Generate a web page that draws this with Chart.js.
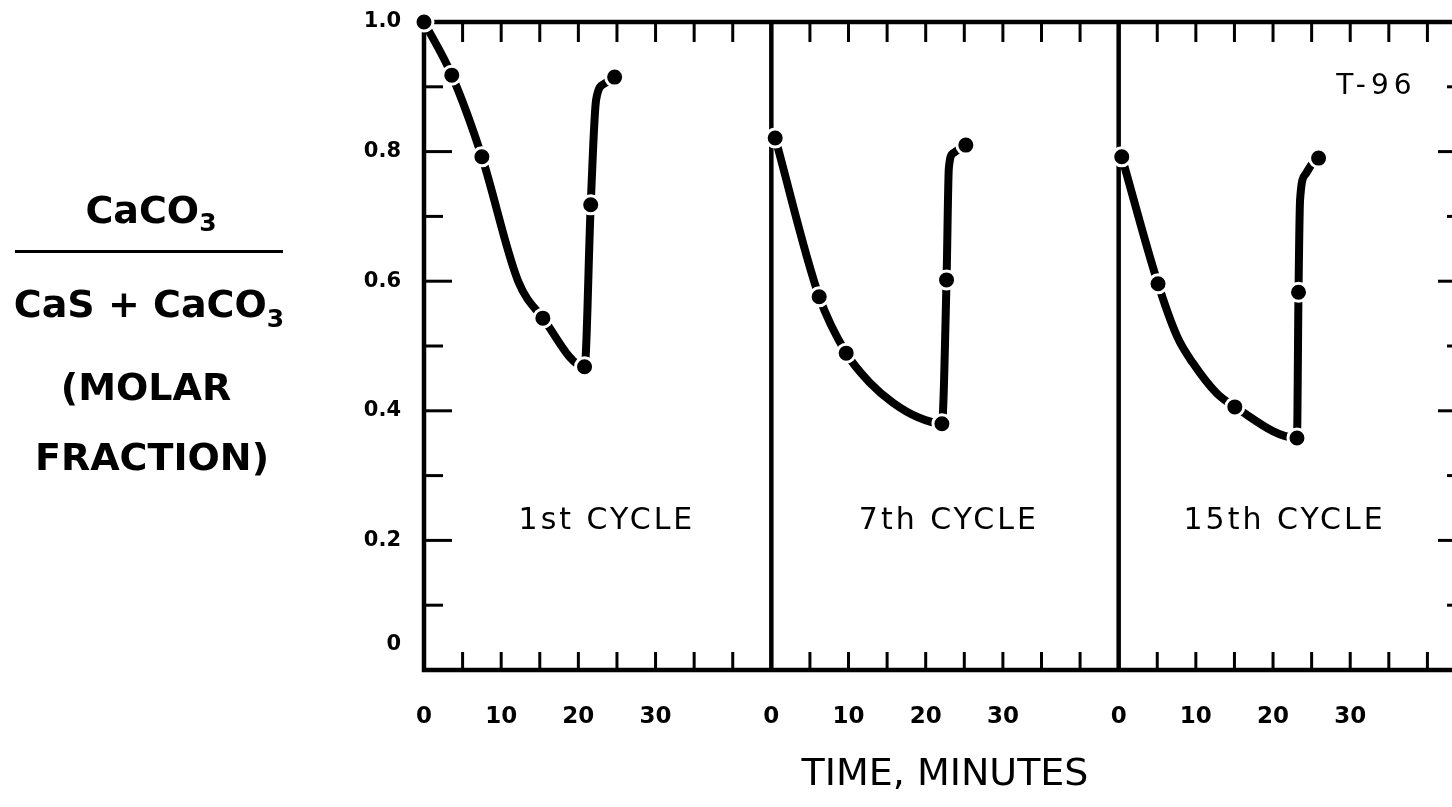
<!DOCTYPE html>
<html>
<head>
<meta charset="utf-8">
<title>CaCO3 / (CaS + CaCO3)</title>
<script src="https://cdn.jsdelivr.net/npm/chart.js@4.4.1/dist/chart.umd.min.js"></script>
<style>
  html, body { margin: 0; padding: 0; background: #fff; overflow: hidden; }
  #wrap { position: absolute; left: 0; top: 0; width: 1500px; height: 807px; }
</style>
</head>
<body>
<div id="wrap"><canvas id="cycles"></canvas></div>
<script>
// Одна панель = один цикл, 45 минут
const PANEL_MIN = 45;
const FONT = 'DejaVu Sans';

const cycleNames = ['1st CYCLE', '7th CYCLE', '15th CYCLE'];
const tickMinutes = [0, 10, 20, 30];
const fracTicks = [0, 0.2, 0.4, 0.6, 0.8, 1.0];

// Измеренные точки (минуты от начала цикла, мольная доля)
const c1Time = [0, 3.6, 7.5, 15.4, 20.8, 21.6, 24.7];
const c1Frac = [1.0, 0.918, 0.792, 0.543, 0.468, 0.718, 0.915];
const c2Time = [0.5, 6.2, 9.7, 22.1, 22.7, 25.2];
const c2Frac = [0.821, 0.576, 0.489, 0.38, 0.602, 0.81];
const c3Time = [0.4, 5.1, 15.05, 23.1, 23.3, 25.9];
const c3Frac = [0.792, 0.596, 0.406, 0.358, 0.583, 0.79];

// Дополнительные точки, по которым идёт кривая между измерениями
const c1CurveTime = [12.2, 22.3, 23.4];
const c1CurveFrac = [0.60, 0.88, 0.905];
const c2CurveTime = [12.8, 15.8, 19.0, 23.0, 23.6];
const c2CurveFrac = [0.443, 0.412, 0.39, 0.775, 0.798];
const c3CurveTime = [7.6, 9.6, 12.7, 23.5, 24.2, 25.0];
const c3CurveFrac = [0.514, 0.474, 0.427, 0.725, 0.765, 0.78];

const series = [
    { t: c1Time, f: c1Frac, ct: c1CurveTime, cf: c1CurveFrac },
    { t: c2Time, f: c2Frac, ct: c2CurveTime, cf: c2CurveFrac },
    { t: c3Time, f: c3Frac, ct: c3CurveTime, cf: c3CurveFrac }
];

function toPoints(t, f, panel) {
    return t.map((v, i) => ({ x: v + panel * PANEL_MIN, y: f[i] }));
}

const datasets = [];
series.forEach((s, i) => {
    const line = toPoints(s.t, s.f, i).concat(toPoints(s.ct, s.cf, i));
    line.sort((a, b) => a.x - b.x);

    datasets.push({
        label: cycleNames[i],
        data: line,
        borderColor: '#000',
        borderWidth: 8,
        borderCapStyle: 'round',
        pointRadius: 0,
        cubicInterpolationMode: 'monotone',
        clip: false,
        order: 1
    });
    datasets.push({
        label: cycleNames[i] + ' points',
        data: toPoints(s.t, s.f, i),
        showLine: false,
        pointRadius: 9,
        pointBackgroundColor: '#000',
        pointBorderColor: '#fff',
        pointBorderWidth: 3,
        clip: false,
        order: 0
    });
});

const xTicks = [];
for (let p = 0; p < 3; p++) {
    tickMinutes.forEach(m => xTicks.push(m + p * PANEL_MIN));
}

// Рамка, границы панелей и засечки внутрь
const frame = {
    id: 'frame',
    beforeDatasetsDraw(chart) {
        const { ctx, chartArea: a, scales: { x, y } } = chart;
        const seg = (x1, y1, x2, y2) => {
            ctx.beginPath();
            ctx.moveTo(x1, y1);
            ctx.lineTo(x2, y2);
            ctx.stroke();
        };
        ctx.save();
        ctx.strokeStyle = '#000';
        ctx.lineWidth = 4.5;
        ctx.strokeRect(a.left, a.top, a.right - a.left, a.bottom - a.top);
        for (let p = 1; p < 3; p++) {
            const px = x.getPixelForValue(p * PANEL_MIN);
            seg(px, a.top, px, a.bottom);
        }
        ctx.lineWidth = 3;
        for (let m = 5; m < 3 * PANEL_MIN; m += 5) {
            const px = x.getPixelForValue(m);
            seg(px, a.top, px, a.top + 20);
            seg(px, a.bottom, px, a.bottom - 18);
        }
        for (let k = 1; k < 10; k++) {
            const py = y.getPixelForValue(k / 10);
            const len = k % 2 === 0 ? 28 : 19;
            seg(a.left, py, a.left + len, py);
            seg(a.right, py, a.right - len, py);
        }
        ctx.restore();
    }
};

// Подписи циклов, номер опыта и подпись оси Y
const notes = {
    id: 'notes',
    afterDatasetsDraw(chart) {
        const { ctx, scales: { x, y } } = chart;
        ctx.save();
        ctx.fillStyle = '#000';
        ctx.textAlign = 'center';
        ctx.textBaseline = 'middle';

        const labelAt = [23.7, 23.0, 21.5];
        ctx.font = '30px ' + FONT;
        ctx.letterSpacing = '3px';
        cycleNames.forEach((name, i) => {
            ctx.fillText(name, x.getPixelForValue(labelAt[i] + i * PANEL_MIN), y.getPixelForValue(0.23));
        });

        ctx.font = '28px ' + FONT;
        ctx.letterSpacing = '5px';
        ctx.fillText('T-96', x.getPixelForValue(2 * PANEL_MIN + 33.4), y.getPixelForValue(0.9));

        // дробь CaCO3 / (CaS + CaCO3)
        ctx.letterSpacing = '0px';
        ctx.textBaseline = 'alphabetic';
        const rich = (parts, cx, base) => {
            let w = 0;
            parts.forEach(p => { ctx.font = 'bold ' + p[1] + 'px ' + FONT; w += ctx.measureText(p[0]).width; });
            let xx = cx - w / 2;
            ctx.textAlign = 'left';
            parts.forEach(p => {
                ctx.font = 'bold ' + p[1] + 'px ' + FONT;
                ctx.fillText(p[0], xx, base + p[2]);
                xx += ctx.measureText(p[0]).width;
            });
        };
        rich([['CaCO', 38, 0], ['3', 25, 8]], 151, 223);
        ctx.fillRect(15, 250, 268, 3);
        rich([['CaS + CaCO', 38, 0], ['3', 25, 10]], 149, 317);
        rich([['(MOLAR', 38, 0]], 146, 400);
        rich([['FRACTION)', 38, 0]], 152, 470);
        ctx.restore();
    }
};

const ctx = document.getElementById('cycles').getContext('2d');
window.cycleChart = new Chart(ctx, {
    type: 'line',
    data: { datasets: datasets },
    plugins: [frame, notes],
    options: {
        responsive: true,
        maintainAspectRatio: false,
        animation: false,
        layout: { padding: { top: 22, right: 34, left: 0, bottom: 0 } },
        plugins: {
            legend: { display: false },
            tooltip: { enabled: false }
        },
        scales: {
            x: {
                type: 'linear',
                min: 0,
                max: 3 * PANEL_MIN,
                grid: { display: false },
                border: { display: false },
                afterBuildTicks: s => { s.ticks = xTicks.map(v => ({ value: v })); },
                afterFit: s => {
                    s.height = 137;
                    s.paddingLeft = 0;
                    s.paddingRight = 0;
                },
                ticks: {
                    color: '#000',
                    font: { family: FONT, size: 23, weight: 'bold' },
                    padding: 25,
                    maxRotation: 0,
                    autoSkip: false,
                    callback: v => String(v % PANEL_MIN)
                },
                title: {
                    display: true,
                    text: 'TIME, MINUTES',
                    color: '#000',
                    font: { family: FONT, size: 38 },
                    padding: { top: 0, bottom: 9 }
                }
            },
            y: {
                min: 0,
                max: 1,
                grid: { display: false },
                border: { display: false },
                afterBuildTicks: s => { s.ticks = fracTicks.map(v => ({ value: v })); },
                afterFit: s => {
                    s.width = 424;
                    s.paddingTop = 0;
                    s.paddingBottom = 0;
                },
                ticks: {
                    color: '#000',
                    font: { family: FONT, size: 21, weight: 'bold' },
                    padding: 15,
                    callback: v => v === 0 ? ['0', '', ''] : v.toFixed(1)
                }
            }
        }
    }
});
</script>
</body>
</html>
